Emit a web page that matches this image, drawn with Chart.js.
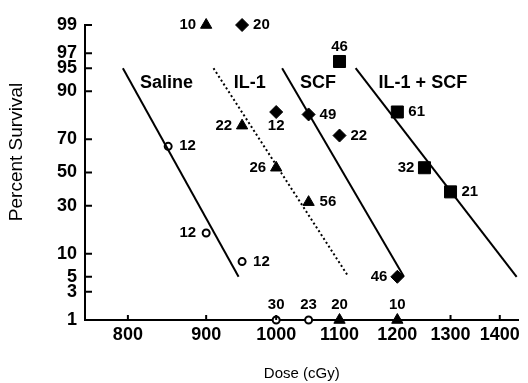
<!DOCTYPE html>
<html>
<head>
<meta charset="utf-8">
<script src="https://cdn.jsdelivr.net/npm/chart.js"></script>
<style>
  html, body { margin: 0; padding: 0; background: #fff; }
  canvas { display: block; }
</style>
</head>
<body>
<canvas id="chart" width="528" height="383"></canvas>
<script>
// observed points (dose in cGy, percent survival, group size n)
const salineDose = [850, 900, 950, 1000, 1050];
const salinePct = [66, 17, 8, 1, 1];
const salineN = ['12', '12', '12', '30', '23'];

const il1Dose = [900, 950, 1000, 1050, 1100, 1200];
const il1Pct = [99, 77, 53, 32, 1, 1];
const il1N = ['10', '22', '26', '56', '20', '10'];

const scfDose = [950, 1000, 1050, 1100, 1200];
const scfPct = [99, 83, 82, 72, 5];
const scfN = ['20', '12', '49', '22', '46'];

const comboDose = [1100, 1200, 1250, 1300];
const comboPct = [96, 83, 53, 38];
const comboN = ['46', '61', '32', '21'];

// fitted probit lines (end points)
const salineFitDose = [794, 945];
const salineFitPct = [95, 5];
const il1FitDose = [910, 1115];
const il1FitPct = [95, 5];
const scfFitDose = [1009, 1212];
const scfFitPct = [95, 5];
const comboFitDose = [1127, 1436];
const comboFitPct = [95, 5];

// axes
const doseTicks = [800, 900, 1000, 1100, 1200, 1300, 1400];
const pctTicks = [1, 3, 5, 10, 30, 50, 70, 90, 95, 97, 99];

// group names written on the plot
const groupNames = ['Saline', 'IL-1', 'SCF', 'IL-1 + SCF'];
const groupNameDose = [848, 961, 1065, 1247];
const groupNamePct = [92, 92, 92, 92];

// where each n label sits relative to its point
const salineSide = ['r', 'l', 'r', 'a', 'a'];
const il1Side = ['l', 'l', 'l', 'r', 'a', 'a'];
const scfSide = ['r', 'b', 'r', 'r', 'l'];
const comboSide = ['a', 'r', 'l', 'r'];

const FONT = '"Liberation Sans", Arial, Helvetica, sans-serif';

// inverse normal cdf (Acklam), percent -> probit
function probit(pct) {
  const p = pct / 100;
  const a = [-3.969683028665376e+01, 2.209460984245205e+02, -2.759285104469687e+02, 1.383577518672690e+02, -3.066479806614716e+01, 2.506628277459239e+00];
  const b = [-5.447609879822406e+01, 1.615858368580409e+02, -1.556989798598866e+02, 6.680131188771972e+01, -1.328068155288572e+01];
  const c = [-7.784894002430293e-03, -3.223964580411365e-01, -2.400758277161838e+00, -2.549732539343734e+00, 4.374664141464968e+00, 2.938163982698783e+00];
  const d = [7.784695709041462e-03, 3.224671290700398e-01, 2.445134137142996e+00, 3.754408661907416e+00];
  const pl = 0.02425;
  let q, r;
  if (p < pl) {
    q = Math.sqrt(-2 * Math.log(p));
    return (((((c[0] * q + c[1]) * q + c[2]) * q + c[3]) * q + c[4]) * q + c[5]) / ((((d[0] * q + d[1]) * q + d[2]) * q + d[3]) * q + 1);
  }
  if (p > 1 - pl) {
    q = Math.sqrt(-2 * Math.log(1 - p));
    return -(((((c[0] * q + c[1]) * q + c[2]) * q + c[3]) * q + c[4]) * q + c[5]) / ((((d[0] * q + d[1]) * q + d[2]) * q + d[3]) * q + 1);
  }
  q = p - 0.5;
  r = q * q;
  return (((((a[0] * r + a[1]) * r + a[2]) * r + a[3]) * r + a[4]) * r + a[5]) * q / (((((b[0] * r + b[1]) * r + b[2]) * r + b[3]) * r + b[4]) * r + 1);
}

function pts(xs, ys) {
  return xs.map((x, i) => ({ x: x, y: probit(ys[i]) }));
}

function fitLine(xs, ys, dashed) {
  return {
    type: 'line',
    data: pts(xs, ys),
    borderColor: '#000',
    borderWidth: 2,
    borderDash: dashed ? [2, 2.6] : [],
    pointRadius: 0,
    showLine: true,
    clip: false
  };
}

function marks(xs, ys, style, radius, fill, nLabels, sides) {
  return {
    type: 'scatter',
    data: pts(xs, ys),
    pointStyle: style,
    pointRadius: radius,
    pointBackgroundColor: fill,
    pointBorderColor: '#000',
    pointBorderWidth: fill === '#fff' ? 2 : 1,
    nLabels: nLabels,
    sides: sides,
    clip: false
  };
}

// inward tick marks, group names, n labels, y title
const decorations = {
  id: 'decorations',
  afterDatasetsDraw(chart) {
    const ctx = chart.ctx;
    const xs = chart.scales.x, ys = chart.scales.y;
    ctx.save();
    ctx.strokeStyle = '#000';
    ctx.lineWidth = 2;
    ctx.beginPath();
    pctTicks.forEach(p => {
      const y = ys.getPixelForValue(probit(p));
      ctx.moveTo(xs.left, y);
      ctx.lineTo(xs.left + 7, y);
    });
    doseTicks.forEach(v => {
      const x = xs.getPixelForValue(v);
      ctx.moveTo(x, ys.bottom);
      ctx.lineTo(x, ys.bottom - 5);
    });
    ctx.stroke();

    ctx.fillStyle = '#000';
    ctx.font = 'bold 18px ' + FONT;
    ctx.textAlign = 'center';
    ctx.textBaseline = 'middle';
    groupNames.forEach((name, i) => {
      ctx.fillText(name, xs.getPixelForValue(groupNameDose[i]), ys.getPixelForValue(probit(groupNamePct[i])));
    });

    ctx.font = 'bold 15px ' + FONT;
    chart.data.datasets.forEach((ds, di) => {
      if (!ds.nLabels) return;
      const meta = chart.getDatasetMeta(di);
      meta.data.forEach((pt, i) => {
        const side = ds.sides[i];
        let x = pt.x, y = pt.y;
        if (side === 'r') { ctx.textAlign = 'left'; x += 11; }
        else if (side === 'l') { ctx.textAlign = 'right'; x -= 10; }
        else if (side === 'a') { ctx.textAlign = 'center'; y -= 15; }
        else { ctx.textAlign = 'center'; y += 14; }
        ctx.fillText(ds.nLabels[i], x, y);
      });
    });

    ctx.font = '19px ' + FONT;
    ctx.textAlign = 'center';
    ctx.translate(17, 152);
    ctx.rotate(-Math.PI / 2);
    ctx.fillText('Percent Survival', 0, 0);
    ctx.restore();
  }
};

new Chart(document.getElementById('chart'), {
  type: 'scatter',
  data: {
    datasets: [
      fitLine(salineFitDose, salineFitPct, false),
      fitLine(il1FitDose, il1FitPct, true),
      fitLine(scfFitDose, scfFitPct, false),
      fitLine(comboFitDose, comboFitPct, false),
      marks(salineDose, salinePct, 'circle', 3.5, '#fff', salineN, salineSide),
      marks(il1Dose, il1Pct, 'triangle', 6.5, '#000', il1N, il1Side),
      marks(scfDose, scfPct, 'rectRot', 6.5, '#000', scfN, scfSide),
      marks(comboDose, comboPct, 'rect', 8.5, '#000', comboN, comboSide)
    ]
  },
  options: {
    responsive: false,
    animation: false,
    layout: { padding: { top: 25, right: 5, left: 0, bottom: 0 } },
    plugins: {
      legend: { display: false },
      tooltip: { enabled: false }
    },
    scales: {
      x: {
        type: 'logarithmic',
        min: 750,
        max: 1440,
        bounds: 'data',
        afterBuildTicks: s => { s.ticks = doseTicks.map(v => ({ value: v })); },
        afterFit: s => { s.height = 63; },
        grid: { display: false, drawTicks: false },
        border: { display: true, color: '#000', width: 2 },
        ticks: {
          color: '#000',
          padding: 4,
          maxRotation: 0,
          autoSkip: false,
          font: { family: FONT, size: 18, weight: 'bold' },
          callback: v => String(v)
        },
        title: {
          display: true,
          text: 'Dose (cGy)',
          color: '#000',
          padding: { top: 0, bottom: 0 },
          font: { family: FONT, size: 15 }
        }
      },
      y: {
        type: 'linear',
        min: probit(1),
        max: probit(99),
        bounds: 'data',
        afterBuildTicks: s => { s.ticks = pctTicks.map(p => ({ value: probit(p) })); },
        afterFit: s => { s.width = 85; },
        grid: { display: false, drawTicks: false },
        border: { display: true, color: '#000', width: 2 },
        ticks: {
          color: '#000',
          padding: 8,
          autoSkip: false,
          font: { family: FONT, size: 18, weight: 'bold' },
          callback: (v, i) => String(pctTicks[i])
        }
      }
    }
  },
  plugins: [decorations]
});
</script>
</body>
</html>
